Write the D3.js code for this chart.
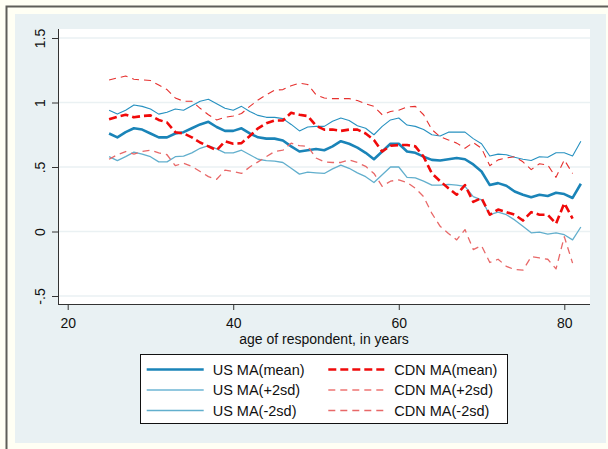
<!DOCTYPE html>
<html>
<head>
<meta charset="utf-8">
<script src="https://cdn.jsdelivr.net/npm/d3@7"></script>
<style>
body{margin:0;background:#fffff4;}
text{font-family:"Liberation Sans",Arial,sans-serif;}
</style>
</head>
<body>
<script>
const w=608
const h=449

// data
const ages=[25,26,27,28,29,30,31,32,33,34,35,36,37,38,39,40,41,42,43,44,45,46,47,48,49,50,51,52,53,54,55,56,57,58,59,60,61,62,63,64,65,66,67,68,69,70,71,72,73,74,75,76,77,78,79,80,81,82]
const usMean=[0.76,0.73,0.77,0.80,0.79,0.76,0.73,0.73,0.76,0.77,0.80,0.83,0.85,0.81,0.78,0.78,0.80,0.76,0.73,0.72,0.72,0.705,0.66,0.62,0.63,0.64,0.63,0.66,0.70,0.68,0.65,0.61,0.56,0.62,0.68,0.68,0.62,0.61,0.58,0.555,0.55,0.56,0.57,0.56,0.52,0.465,0.36,0.375,0.355,0.31,0.285,0.265,0.285,0.275,0.30,0.29,0.26,0.37]
const usHi=[0.94,0.91,0.94,0.98,0.97,0.95,0.91,0.925,0.95,0.94,0.975,1.01,1.025,0.99,0.955,0.94,0.97,0.93,0.90,0.885,0.885,0.875,0.83,0.78,0.81,0.815,0.815,0.855,0.88,0.86,0.82,0.80,0.75,0.815,0.865,0.88,0.825,0.815,0.79,0.75,0.74,0.77,0.77,0.77,0.72,0.68,0.585,0.60,0.595,0.575,0.56,0.55,0.58,0.575,0.61,0.61,0.585,0.70]
const usLo=[0.58,0.55,0.58,0.615,0.60,0.58,0.54,0.54,0.58,0.585,0.61,0.645,0.665,0.64,0.61,0.61,0.63,0.595,0.56,0.55,0.545,0.535,0.49,0.445,0.46,0.455,0.45,0.485,0.515,0.49,0.455,0.425,0.38,0.44,0.50,0.50,0.42,0.415,0.39,0.36,0.36,0.365,0.36,0.35,0.27,0.245,0.13,0.15,0.13,0.09,0.04,-0.01,-0.005,-0.02,-0.01,-0.025,-0.065,0.035]
const cdnMean=[0.87,0.89,0.905,0.885,0.895,0.90,0.865,0.845,0.77,0.76,0.73,0.69,0.66,0.63,0.70,0.68,0.685,0.74,0.80,0.84,0.86,0.86,0.92,0.905,0.895,0.82,0.79,0.79,0.78,0.79,0.79,0.76,0.71,0.62,0.665,0.67,0.67,0.66,0.58,0.45,0.39,0.335,0.285,0.36,0.23,0.26,0.13,0.17,0.15,0.13,0.085,0.15,0.13,0.13,0.06,0.22,0.10]
const cdnHi=[1.175,1.19,1.205,1.18,1.175,1.17,1.135,1.10,1.035,1.01,1.01,0.955,0.905,0.865,0.885,0.895,0.915,0.97,1.02,1.06,1.095,1.10,1.13,1.15,1.14,1.06,1.035,1.03,1.03,1.03,1.015,0.99,0.97,0.905,0.93,0.94,0.965,0.97,0.905,0.79,0.735,0.71,0.685,0.645,0.69,0.645,0.51,0.555,0.57,0.58,0.54,0.48,0.525,0.515,0.42,0.555,0.45]
const cdnLo=[0.56,0.595,0.62,0.60,0.62,0.63,0.61,0.595,0.51,0.53,0.505,0.465,0.425,0.405,0.475,0.465,0.45,0.50,0.54,0.58,0.62,0.63,0.685,0.665,0.66,0.57,0.54,0.535,0.535,0.555,0.535,0.505,0.45,0.35,0.39,0.40,0.38,0.335,0.27,0.14,0.04,-0.015,-0.065,0.015,-0.14,-0.11,-0.24,-0.215,-0.27,-0.295,-0.30,-0.195,-0.205,-0.215,-0.29,-0.04,-0.245]
const xTicks=[20,40,60,80]
const yTicks=[-0.5,0,0.5,1,1.5]
const yLabels=["-.5","0",".5","1","1.5"]

const series=[
  {name:"US MA(mean)",values:usMean,color:"#1a84b8",width:2.6,dash:null},
  {name:"US MA(+2sd)",values:usHi,color:"#2791c0",width:1.1,dash:null},
  {name:"US MA(-2sd)",values:usLo,color:"#62afcd",width:1.3,dash:null},
  {name:"CDN MA(mean)",values:cdnMean,color:"#f00a0a",width:2.6,dash:"8,4"},
  {name:"CDN MA(+2sd)",values:cdnHi,color:"#e6312f",width:1.1,dash:"7,5"},
  {name:"CDN MA(-2sd)",values:cdnLo,color:"#e86868",width:1.3,dash:"7,5"}
]

const x=d3.scaleLinear()
    .domain([20,80])
    .range([67.7,564.3])

const y=d3.scaleLinear()
    .domain([-0.5,1.5])
    .range([296,38])

const svg=d3.create("svg")
    .attr("width",w)
    .attr("height",h)

// outer frame
svg.append("rect").attr("width",w).attr("height",h).attr("fill","#fffff4")
svg.append("rect").attr("x",15).attr("y",14).attr("width",591).attr("height",429).attr("fill","#e9f1f3")
svg.append("path").attr("d","M6.5,449V6.5H608").attr("fill","none").attr("stroke","#5e5e58").attr("stroke-width",2)

// plot area
svg.append("rect").attr("x",58).attr("y",29).attr("width",532).attr("height",275).attr("fill","#ffffff")

// gridlines
svg.append("g")
  .selectAll("line")
  .data(yTicks)
  .enter()
  .append("line")
    .attr("x1",58).attr("x2",590)
    .attr("y1",d=>y(d)).attr("y2",d=>y(d))
    .attr("stroke","#eaf1f3")
    .attr("stroke-width",1.6)

// axes
const yAxis=svg.append("g")
    .attr("transform","translate(58,0)")
    .call(d3.axisLeft(y).tickValues(yTicks).tickSize(6).tickPadding(12).tickFormat((d,i)=>yLabels[i]))
yAxis.select(".domain").attr("d","M0.5,29V304").attr("stroke","#333")
yAxis.selectAll(".tick line").attr("stroke","#333")
yAxis.selectAll(".tick text")
    .attr("transform","rotate(-90)")
    .attr("x",0).attr("y",-13).attr("dy",0)
    .attr("text-anchor","middle")
    .attr("font-size",14)
    .attr("fill","#111")
    .attr("font-family","Liberation Sans, Arial, sans-serif")

const xAxis=svg.append("g")
    .attr("transform","translate(0,304)")
    .call(d3.axisBottom(x).tickValues(xTicks).tickSize(6).tickFormat(d3.format("d")))
xAxis.select(".domain").attr("d","M58,0.5H590").attr("stroke","#333")
xAxis.selectAll(".tick line").attr("stroke","#333")
xAxis.selectAll(".tick text")
    .attr("y",24).attr("dy",0)
    .attr("font-size",14)
    .attr("fill","#111")
    .attr("font-family","Liberation Sans, Arial, sans-serif")

svg.append("text")
    .attr("x",324).attr("y",343.5)
    .attr("text-anchor","middle")
    .attr("font-size",14)
    .attr("fill","#111")
    .text("age of respondent, in years")

// lines
const line=d3.line()
    .x((d,i)=>x(ages[i]))
    .y(d=>y(d))

svg.append("g")
  .selectAll("path")
  .data(series)
  .enter()
  .append("path")
    .attr("d",d=>line(d.values))
    .attr("fill","none")
    .attr("stroke",d=>d.color)
    .attr("stroke-width",d=>d.width)
    .attr("stroke-dasharray",d=>d.dash)
    .attr("stroke-linejoin","round")

// legend
const legend=svg.append("g")
legend.append("rect")
    .attr("x",140.5).attr("y",354.5).attr("width",367).attr("height",69)
    .attr("fill","#ffffff").attr("stroke","#111").attr("stroke-width",1)

const rows=[369.5,390,410.5]
const items=legend.selectAll("g.item")
  .data(series)
  .enter()
  .append("g")
    .attr("class","item")
    .attr("transform",(d,i)=>`translate(${i<3?146.7:328.3},${rows[i%3]})`)
items.append("line")
    .attr("x1",0).attr("x2",57)
    .attr("stroke",d=>d.color)
    .attr("stroke-width",d=>d.width)
    .attr("stroke-dasharray",d=>d.dash)
items.append("text")
    .attr("x",66).attr("dy","0.36em")
    .attr("font-size",14.5)
    .attr("fill","#111")
    .text(d=>d.name)

d3.select("body")
    .append(()=>svg.node())
</script>
</body>
</html>
